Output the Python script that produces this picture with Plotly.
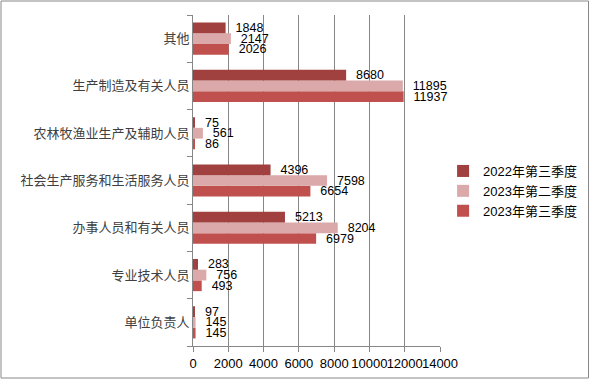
import plotly.graph_objects as go

categories = ["单位负责人", "专业技术人员", "办事人员和有关人员", "社会生产服务和生活服务人员",
              "农林牧渔业生产及辅助人员", "生产制造及有关人员", "其他"]
s2022q3 = [97, 283, 5213, 4396, 75, 8680, 1848]
s2023q2 = [145, 756, 8204, 7598, 561, 11895, 2147]
s2023q3 = [145, 493, 6979, 6654, 86, 11937, 2026]
series_names = ["2022年第三季度", "2023年第二季度", "2023年第三季度"]
colors = ["#A0403F", "#DBA9A9", "#C0504D"]
x_ticks = [0, 2000, 4000, 6000, 8000, 10000, 12000, 14000]

FONT = "Liberation Sans, Noto Sans CJK SC, sans-serif"

fig = go.Figure()
# order: bottom bar first in group
for name, vals, col in [(series_names[2], s2023q3, colors[2]),
                        (series_names[1], s2023q2, colors[1]),
                        (series_names[0], s2022q3, colors[0])]:
    fig.add_trace(go.Bar(
        y=categories, x=vals, name=name, orientation="h",
        marker=dict(color=col, line=dict(width=0)),
        text=["  " + str(v) for v in vals], textposition="outside",
        textfont=dict(family=FONT, size=12.5, color="#000000"),
        constraintext="none",
        cliponaxis=False,
    ))

fig.update_layout(
    width=590, height=382,
    barmode="group", bargap=0.32, bargroupgap=0,
    paper_bgcolor="white", plot_bgcolor="white",
    margin=dict(l=193, r=150, t=15, b=36, autoexpand=False),
    font=dict(family=FONT, size=12, color="#000000"),
    legend=dict(traceorder="reversed", xref="container", yref="container",
                x=0.751, xanchor="left", y=0.5, yanchor="middle",
                font=dict(family=FONT, size=13, color="#000000"),
                itemwidth=30, tracegroupgap=0, bgcolor="rgba(0,0,0,0)"),
    showlegend=True,
)
fig.update_xaxes(range=[0, 14000], tickvals=x_ticks, ticktext=[str(t) for t in x_ticks],
                 tickangle=0, automargin=False,
                 showgrid=True, gridcolor="#878787", gridwidth=1,
                 showline=True, linecolor="#878787", linewidth=1,
                 ticks="outside", ticklen=5, tickcolor="#878787",
                 tickfont=dict(family=FONT, size=13, color="#000000"),
                 zeroline=False, fixedrange=True)
fig.update_yaxes(categoryorder="array", categoryarray=categories, automargin=False,
                 showline=True, linecolor="#878787", linewidth=1,
                 ticks="outside", ticklen=5, tickcolor="#878787", tickson="boundaries",
                 tickfont=dict(family="Noto Sans CJK SC, sans-serif", size=13, color="#404040"),
                 showgrid=False, fixedrange=True)

# outer chart border
pw, ph = 590 - 193 - 150, 382 - 15 - 36
def px_to_paper_x(p):
    return (p - 193) / pw
def px_to_paper_y(p):
    return (382 - 36 - p) / ph
fig.add_shape(type="rect", xref="paper", yref="paper",
              x0=px_to_paper_x(1), x1=px_to_paper_x(588.5),
              y0=px_to_paper_y(378), y1=px_to_paper_y(1),
              line=dict(color="#888888", width=1), fillcolor="rgba(0,0,0,0)", layer="below")

fig.write_html("out.html", config={"displayModeBar": False},
               post_script="document.body.style.margin='0';document.body.style.padding='0';document.body.style.overflow='hidden';")
